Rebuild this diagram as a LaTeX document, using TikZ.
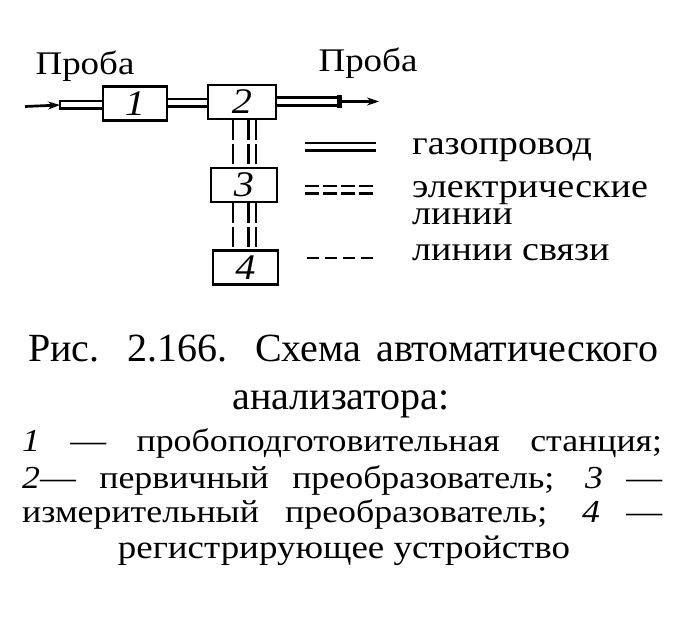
\documentclass[tikz,border=0pt]{standalone}
\usepackage{fontspec}
\setmainfont[FakeStretch=1.12]{Liberation Serif}
\newfontfamily\capfont{Liberation Serif}
\usetikzlibrary{arrows.meta}
\begin{document}
\begin{tikzpicture}[x=1pt,y=-1pt,
  blk/.style={draw,line width=2.7pt,minimum height=34pt,inner sep=0pt,font=\fontsize{36}{36}\selectfont\itshape},
  pipe/.style={draw,line width=2.7pt,double,double distance=5pt},
  elec/.style={pipe,dash pattern=on 20pt off 4pt},
  sig/.style={draw,line width=2.7pt,dash pattern=on 20pt off 4pt},
  flow/.style={draw,line width=2.7pt,-{Stealth[length=12pt,width=8pt]}},
  lbl/.style={inner sep=0pt,anchor=base,font=\fontsize{33}{33}\selectfont},
  leg/.style={inner sep=0pt,anchor=base west,font=\fontsize{34}{26}\selectfont},
  captxt/.style={inner sep=0pt,anchor=base,font=\capfont\fontsize{40}{40}\selectfont},
  capb/.style={inner sep=0pt,anchor=base west,font=\fontsize{32}{32}\selectfont}]
\useasboundingbox (0,0) rectangle (699,617);
% blocks
\node[blk,minimum width=64pt] (b1) at (135,103.5) {1};
\node[blk,minimum width=68pt] (b2) at (242,102) {2};
\node[blk,minimum width=66pt] (b3) at (244,185) {3};
\node[blk,minimum width=65pt] (b4) at (245.5,267.5) {4};
% labels
\node[lbl] (p1) at (85,75) {Проба};
\node[lbl] (p2) at (368,72) {Проба};
% input
\coordinate (inS) at (25,106.5);
\coordinate (inP) at (60,105);
\draw[pipe] (inP) -- (b1.west |- inP);
\draw[line width=2.7pt] ([yshift=-5pt]inP) -- ([yshift=5pt]inP);
\draw[flow] (inS) -- (inP);
% pipe 1-2
\draw[pipe] (b1.east |- 0,103) -- (b2.west |- 0,103);
% output
\coordinate (outP) at (342,101.5);
\coordinate (outE) at (379,101.5);
\draw[pipe] (b2.east |- outP) -- (outP);
\fill ([xshift=-5pt,yshift=-6.3pt]outP) rectangle ([yshift=6.3pt]outP);
\draw[flow] (outP) -- (outE);
% vertical links
\draw[sig] (233,0 |- b2.south) -- (233,0 |- b3.north);
\draw[elec] (252,0 |- b2.south) -- (252,0 |- b3.north);
\draw[sig] (233,0 |- b3.south) -- (233,0 |- b4.north);
\draw[elec] (252,0 |- b3.south) -- (252,0 |- b4.north);
% legend
\coordinate (l1a) at (305,147); \coordinate (l1b) at (376,147);
\draw[pipe] (l1a) -- (l1b);
\node[leg] (t1) at (412,155) {газопровод};
\coordinate (l2a) at (305,190); \coordinate (l2b) at (376,190);
\draw[pipe,dash pattern=on 14pt off 4pt] (l2a) -- (l2b);
\node[leg] (t2) at (412,198) {электрические};
\node[leg] (t2b) at (412,225) {линии};
\coordinate (l3a) at (307,258); \coordinate (l3b) at (376,258);
\draw[line width=2.7pt,dash pattern=on 12pt off 6pt] (l3a) -- (l3b);
\node[leg] (t3) at (412,261) {линии связи};
% caption
\node[captxt,anchor=base west] (c1) at (28,362) {\makebox[630pt][s]{Рис. 2.166. Схема автоматического}};
\node[captxt] (c2) at (341,410) {анализатора:};
\node[capb] (c3) at (22,452) {\makebox[640pt][s]{\textit{1} — пробоподготовительная станция;}};
\node[capb] (c4) at (22,488) {\makebox[640pt][s]{\textit{2}— первичный преобразователь; \textit{3} —}};
\node[capb] (c5) at (22,522) {\makebox[640pt][s]{измерительный преобразователь; \textit{4} —}};
\node[capb,anchor=base] (c6) at (344,558) {\fontsize{33}{33}\selectfont регистрирующее устройство};
\end{tikzpicture}
\end{document}
